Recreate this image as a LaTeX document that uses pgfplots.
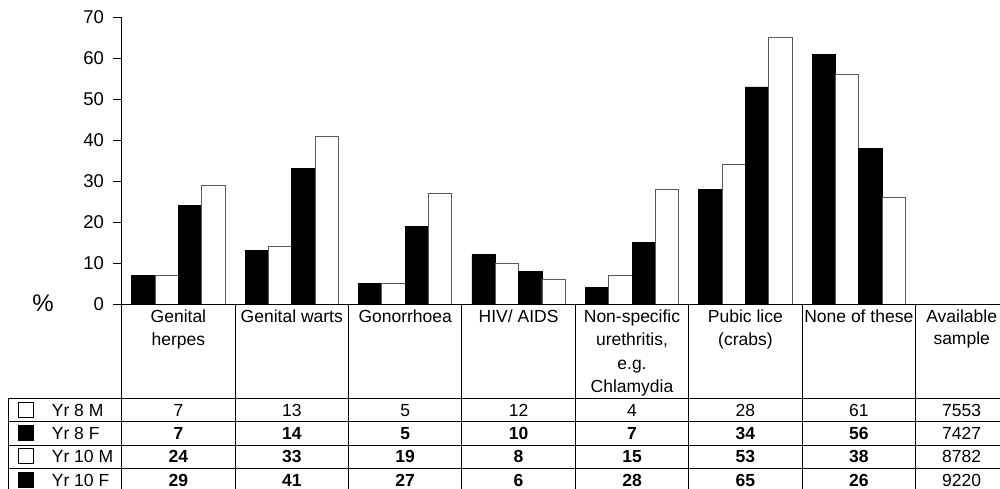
\documentclass[border=0pt]{standalone}
\usepackage{pgfplots}
\pgfplotsset{compat=1.18}
\usepackage{fontspec}
\setmainfont{Liberation Sans}
\definecolor{bordergray}{RGB}{90,90,90}
\newcommand{\tf}{\fontsize{17.5}{23.5}\selectfont}
\begin{document}
\begin{tikzpicture}[x=1pt,y=1pt]
\begin{axis}[
  at={(0,0)}, anchor=south west,
  scale only axis, width=878.3pt, height=286.7pt,
  xmin=-0.5, xmax=7.245, ymin=0, ymax=70,
  axis lines=left, axis line style={-, line width=0.9pt, black},
  xtick=\empty, ytick={0,10,...,70},
  tick align=outside, major tick length=8.5pt,
  tick style={line width=0.9pt, black},
  /pgf/number format/assume math mode=true,
  yticklabel style={font=\fontsize{18.5}{22}\selectfont, inner sep=0pt, xshift=-9pt},
  clip=false,
]
\addplot[ybar, bar width=23.3pt, bar shift=-35pt, fill=black, draw=black, line width=0.8pt]
  coordinates {(0,7) (1,13) (2,5) (3,12) (4,4) (5,28) (6,61)};
\addplot[ybar, bar width=23.3pt, bar shift=-11.67pt, fill=white, draw=bordergray, line width=0.8pt]
  coordinates {(0,7) (1,14) (2,5) (3,10) (4,7) (5,34) (6,56)};
\addplot[ybar, bar width=23.3pt, bar shift=11.67pt, fill=black, draw=black, line width=0.8pt]
  coordinates {(0,24) (1,33) (2,19) (3,8) (4,15) (5,53) (6,38)};
\addplot[ybar, bar width=23.3pt, bar shift=35pt, fill=white, draw=bordergray, line width=0.8pt]
  coordinates {(0,29) (1,41) (2,27) (3,6) (4,28) (5,65) (6,26)};
\end{axis}
% percent sign
\node[font=\fontsize{24}{26}\selectfont, inner sep=0pt] at (-78.7,1) {\%};
% table lines
\begin{scope}[line width=0.9pt, black]
\draw (0,0) -- (900,0);
\foreach \yy in {-94.6,-117.8,-141,-164.3,-187.5} {\draw (-113.4,\yy) -- (900,\yy);}
\draw (-113.4,-94.6) -- (-113.4,-200);
\draw (0,0) -- (0,-200);
\foreach \k in {1,...,7} {\draw (113.4*\k,0) -- (113.4*\k,-200);}
\end{scope}
% headers
\tikzset{hd/.style={anchor=base, inner sep=0pt, font=\tf}}
\node[hd] at (56.7,-18.3) {Genital};
\node[hd] at (56.7,-41.8) {herpes};
\node[hd] at (170.1,-18.3) {Genital warts};
\node[hd] at (283.5,-18.3) {Gonorrhoea};
\node[hd] at (396.9,-18.3) {HIV/ AIDS};
\node[hd] at (510.3,-18.3) {Non-specific};
\node[hd] at (510.3,-41.8) {urethritis,};
\node[hd] at (510.3,-65.3) {e.g.};
\node[hd] at (510.3,-88.8) {Chlamydia};
\node[hd] at (623.7,-18.3) {Pubic lice};
\node[hd] at (623.7,-41.8) {(crabs)};
\node[hd] at (737.1,-18.3) {None of these};
\node[hd] at (840,-18.3) {Available};
\node[hd] at (840,-40.3) {sample};
% legend column
\draw[fill=white, draw=black, line width=0.9pt] (-103.4,-113.5) rectangle (-88.4,-98.5);
\node[hd, anchor=base west] at (-70,-112.5) {Yr 8 M};
\draw[fill=black, draw=black, line width=0.9pt] (-103.4,-136.7) rectangle (-88.4,-121.7);
\node[hd, anchor=base west] at (-70,-135.7) {Yr 8 F};
\draw[fill=white, draw=black, line width=0.9pt] (-103.4,-159.9) rectangle (-88.4,-144.9);
\node[hd, anchor=base west] at (-70,-158.9) {Yr 10 M};
\draw[fill=black, draw=black, line width=0.9pt] (-103.4,-183.1) rectangle (-88.4,-168.1);
\node[hd, anchor=base west] at (-70,-182.1) {Yr 10 F};
% values
\foreach \k/\v in {0/7,1/13,2/5,3/12,4/4,5/28,6/61}{
  \node[anchor=base, inner sep=0pt, font=\tf] at (113.4*\k+56.7,-112.5) {\v};}
\foreach \k/\v in {0/7,1/14,2/5,3/10,4/7,5/34,6/56}{
  \node[anchor=base, inner sep=0pt, font=\tf\bfseries] at (113.4*\k+56.7,-135.7) {\v};}
\foreach \k/\v in {0/24,1/33,2/19,3/8,4/15,5/53,6/38}{
  \node[anchor=base, inner sep=0pt, font=\tf\bfseries] at (113.4*\k+56.7,-158.9) {\v};}
\foreach \k/\v in {0/29,1/41,2/27,3/6,4/28,5/65,6/26}{
  \node[anchor=base, inner sep=0pt, font=\tf\bfseries] at (113.4*\k+56.7,-182.1) {\v};}
\node[hd] at (840,-112.5) {7553};
\node[hd] at (840,-135.7) {7427};
\node[hd] at (840,-158.9) {8782};
\node[hd] at (840,-182.1) {9220};
\pgfresetboundingbox
\path[use as bounding box] (-121.7,-184) rectangle (878.3,304);
\end{tikzpicture}
\end{document}
